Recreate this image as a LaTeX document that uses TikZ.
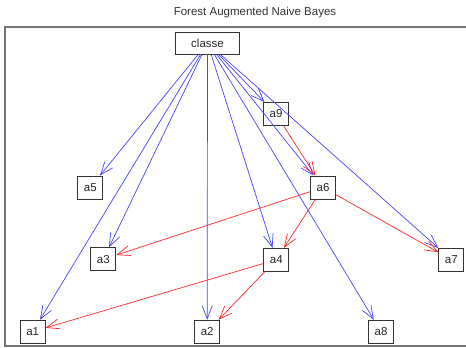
\documentclass[tikz,border=0pt]{standalone}
\usepackage{fontspec}
\setmainfont{Liberation Sans}
\usetikzlibrary{arrows.meta}
\definecolor{eblue}{RGB}{70,70,255}
\definecolor{ered}{RGB}{255,40,40}
\tikzset{
  box/.style={draw=black!80, line width=0.8pt, rectangle, minimum width=25pt, minimum height=23pt, inner sep=0pt, font=\fontsize{11.5}{13}\selectfont, text=black!85},
  arr/.style={-{Straight Barb[length=13pt,width=10pt]}, line width=0.7pt},
  barr/.style={arr, draw=eblue},
  rarr/.style={arr, draw=ered},
}
\begin{document}
\begin{tikzpicture}[x=1pt,y=-1pt]
\useasboundingbox (0,0) rectangle (466,348);
\fill[white] (0,0) rectangle (466,348);
\node[font=\fontsize{11.5}{13}\selectfont, text=black!80] (title) at (255,13) {Forest Augmented Naive Bayes};
\draw[line width=1.2pt, draw=black!55] (466,27) -- (5,27) -- (5,346) -- (466,346);
\node[box, minimum width=64pt, minimum height=22pt] (classe) at (207.5,43) {classe};
\node[box] (a9) at (276,114) {a9};
\node[box] (a5) at (90.3,187.5) {a5};
\node[box] (a6) at (323,187.5) {a6};
\node[box] (a3) at (103.3,259.3) {a3};
\node[box] (a4) at (276.3,259.7) {a4};
\node[box] (a7) at (451.3,259.5) {a7};
\node[box] (a1) at (32.7,331.7) {a1};
\node[box] (a2) at (207.2,331.7) {a2};
\node[box] (a8) at (381,331.7) {a8};
\draw[barr] (classe) -- (a5);
\draw[barr] (classe) -- (a3);
\draw[barr] (classe) -- (a1);
\draw[barr] (classe) -- (a2);
\draw[barr] (classe) -- (a4);
\draw[barr] (classe) -- (a8);
\draw[barr] (classe) -- (a9);
\draw[barr] (classe) -- (a6);
\draw[barr] (classe) -- (a7);
\draw[rarr] (a9) -- (a6);
\draw[rarr] (a6) -- (a3);
\draw[rarr] (a6) -- (a4);
\draw[rarr] (a6) -- (a7);
\draw[rarr] (a4) -- (a1);
\draw[rarr] (a4) -- (a2);
\end{tikzpicture}
\end{document}
